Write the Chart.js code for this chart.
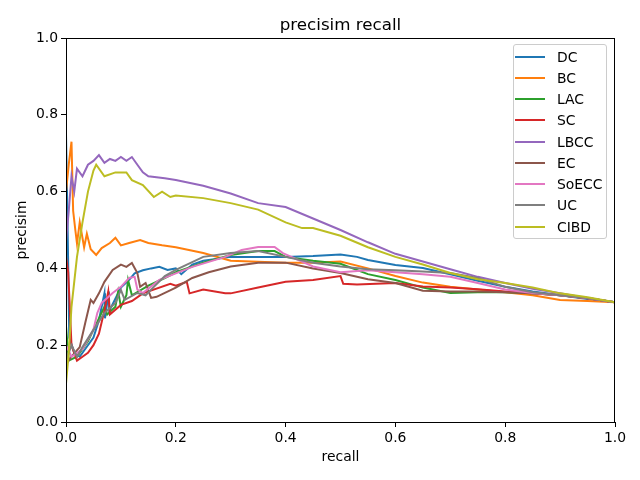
<!DOCTYPE html>
<html>
<head>
<meta charset="utf-8">
<script src="https://cdn.jsdelivr.net/npm/chart.js@4.4.1/dist/chart.umd.min.js"></script>
<style>
  body { margin: 0; background: #fff; }
  #wrap { position: relative; width: 640px; height: 480px; }
  #legend {
    position: absolute; left: 513px; top: 44px; width: 94px;
    box-sizing: border-box; border: 1px solid #ccc; border-radius: 3px;
    background: rgba(255,255,255,0.8); padding: 1px 0;
    font-family: 'DejaVu Sans', sans-serif; font-size: 13.9px; color: #000;
  }
  .row { height: 21.25px; display: flex; align-items: center; }
  .swatch { width: 30px; height: 2px; margin-left: 1px; margin-right: 12px; }
</style>
</head>
<body>
<div id="wrap">
  <canvas id="prChart" width="640" height="480"></canvas>
  <div id="legend"></div>
</div>
<script>
const seriesNames = ['DC', 'BC', 'LAC', 'SC', 'LBCC', 'EC', 'SoECC', 'UC', 'CIBD'];
const seriesColors = ['#1f77b4', '#ff7f0e', '#2ca02c', '#d62728', '#9467bd', '#8c564b', '#e377c2', '#7f7f7f', '#bcbd22'];
const tickValues = [0, 0.2, 0.4, 0.6, 0.8, 1.0];

const dcRecall = [0, 0.003, 0.006, 0.015, 0.025, 0.035, 0.05, 0.06, 0.07, 0.071, 0.078, 0.079, 0.1, 0.115, 0.125, 0.14, 0.155, 0.17, 0.185, 0.2, 0.21, 0.23, 0.25, 0.3, 0.35, 0.4, 0.45, 0.5, 0.53, 0.55, 0.6, 0.65, 0.7, 0.75, 0.8, 0.85, 0.9, 0.95, 1.0];
const dcPrecision = [0.75, 0.5, 0.22, 0.18, 0.17, 0.19, 0.22, 0.265, 0.335, 0.27, 0.34, 0.29, 0.35, 0.37, 0.387, 0.395, 0.4, 0.404, 0.396, 0.4, 0.385, 0.41, 0.42, 0.43, 0.43, 0.43, 0.432, 0.436, 0.43, 0.422, 0.409, 0.401, 0.385, 0.368, 0.352, 0.34, 0.33, 0.32, 0.312];

const bcRecall = [0, 0.005, 0.01, 0.013, 0.017, 0.02, 0.025, 0.033, 0.038, 0.045, 0.055, 0.065, 0.08, 0.09, 0.1, 0.115, 0.135, 0.15, 0.175, 0.2, 0.25, 0.3, 0.35, 0.4, 0.45, 0.5, 0.55, 0.6, 0.65, 0.7, 0.75, 0.8, 0.85, 0.9, 0.95, 1.0];
const bcPrecision = [0.6, 0.67, 0.73, 0.55, 0.5, 0.465, 0.52, 0.455, 0.49, 0.45, 0.435, 0.453, 0.466, 0.48, 0.46, 0.466, 0.474, 0.466, 0.46, 0.455, 0.44, 0.42, 0.417, 0.415, 0.415, 0.418, 0.4, 0.38, 0.363, 0.352, 0.345, 0.338, 0.33, 0.318, 0.315, 0.312];

const lacRecall = [0, 0.005, 0.02, 0.04, 0.06, 0.07, 0.075, 0.09, 0.095, 0.1, 0.11, 0.113, 0.12, 0.15, 0.18, 0.2, 0.25, 0.3, 0.35, 0.38, 0.4, 0.45, 0.5, 0.55, 0.6, 0.65, 0.7, 0.75, 0.8, 0.85, 0.9, 0.95, 1.0];
const lacPrecision = [0.25, 0.16, 0.17, 0.21, 0.27, 0.3, 0.28, 0.3, 0.34, 0.3, 0.33, 0.37, 0.33, 0.355, 0.375, 0.39, 0.415, 0.435, 0.445, 0.445, 0.43, 0.42, 0.412, 0.385, 0.37, 0.35, 0.336, 0.338, 0.338, 0.335, 0.33, 0.323, 0.312];

const scRecall = [0, 0.004, 0.01, 0.02, 0.03, 0.04, 0.05, 0.06, 0.07, 0.077, 0.08, 0.1, 0.12, 0.14, 0.19, 0.2, 0.22, 0.225, 0.25, 0.29, 0.3, 0.35, 0.4, 0.45, 0.5, 0.505, 0.53, 0.6, 0.65, 0.7, 0.75, 0.8, 0.85, 0.9, 0.95, 1.0];
const scPrecision = [0.43, 0.39, 0.2, 0.16, 0.17, 0.18, 0.2, 0.23, 0.29, 0.34, 0.28, 0.305, 0.315, 0.335, 0.36, 0.355, 0.365, 0.335, 0.345, 0.335, 0.335, 0.35, 0.365, 0.37, 0.38, 0.36, 0.358, 0.362, 0.353, 0.35, 0.346, 0.34, 0.335, 0.33, 0.322, 0.312];

const lbccRecall = [0, 0.005, 0.01, 0.015, 0.02, 0.03, 0.04, 0.05, 0.06, 0.07, 0.08, 0.09, 0.1, 0.11, 0.12, 0.13, 0.14, 0.15, 0.18, 0.2, 0.25, 0.3, 0.35, 0.4, 0.45, 0.5, 0.55, 0.6, 0.65, 0.7, 0.75, 0.8, 0.85, 0.9, 0.95, 1.0];
const lbccPrecision = [0.47, 0.55, 0.64, 0.6, 0.66, 0.64, 0.67, 0.68, 0.695, 0.675, 0.685, 0.68, 0.69, 0.68, 0.69, 0.67, 0.65, 0.64, 0.635, 0.63, 0.615, 0.595, 0.57, 0.56, 0.53, 0.5, 0.468, 0.438, 0.418, 0.398, 0.378, 0.362, 0.347, 0.335, 0.322, 0.312];

const ecRecall = [0, 0.01, 0.025, 0.035, 0.045, 0.05, 0.06, 0.07, 0.085, 0.1, 0.11, 0.12, 0.13, 0.135, 0.145, 0.155, 0.165, 0.2, 0.23, 0.26, 0.3, 0.35, 0.4, 0.45, 0.5, 0.55, 0.6, 0.65, 0.7, 0.75, 0.8, 0.85, 0.9, 0.95, 1.0];
const ecPrecision = [0.15, 0.17, 0.195, 0.258, 0.318, 0.31, 0.335, 0.365, 0.396, 0.41, 0.404, 0.414, 0.388, 0.352, 0.362, 0.323, 0.326, 0.35, 0.375, 0.39, 0.405, 0.415, 0.415, 0.4, 0.388, 0.372, 0.362, 0.342, 0.34, 0.34, 0.338, 0.335, 0.33, 0.322, 0.312];

const soeccRecall = [0, 0.01, 0.03, 0.05, 0.057, 0.065, 0.085, 0.1, 0.115, 0.125, 0.13, 0.14, 0.17, 0.23, 0.29, 0.32, 0.35, 0.38, 0.395, 0.45, 0.5, 0.55, 0.6, 0.65, 0.7, 0.75, 0.8, 0.85, 0.9, 0.95, 1.0];
const soeccPrecision = [0.2, 0.17, 0.19, 0.24, 0.284, 0.31, 0.336, 0.352, 0.375, 0.378, 0.345, 0.336, 0.37, 0.404, 0.43, 0.448, 0.456, 0.456, 0.44, 0.405, 0.39, 0.395, 0.39, 0.385, 0.378, 0.362, 0.345, 0.336, 0.33, 0.323, 0.312];

const ucRecall = [0, 0.01, 0.02, 0.03, 0.05, 0.07, 0.09, 0.1, 0.107, 0.13, 0.145, 0.16, 0.18, 0.2, 0.25, 0.3, 0.35, 0.4, 0.45, 0.5, 0.55, 0.6, 0.65, 0.7, 0.75, 0.8, 0.85, 0.9, 0.95, 1.0];
const ucPrecision = [0.16, 0.2, 0.17, 0.195, 0.24, 0.284, 0.31, 0.344, 0.318, 0.336, 0.33, 0.352, 0.38, 0.396, 0.43, 0.44, 0.445, 0.43, 0.415, 0.405, 0.398, 0.395, 0.392, 0.388, 0.375, 0.352, 0.338, 0.33, 0.323, 0.312];

const cibdRecall = [0, 0.005, 0.01, 0.02, 0.03, 0.04, 0.05, 0.055, 0.07, 0.09, 0.11, 0.12, 0.14, 0.16, 0.175, 0.19, 0.2, 0.25, 0.3, 0.35, 0.4, 0.43, 0.45, 0.5, 0.55, 0.6, 0.65, 0.7, 0.75, 0.8, 0.85, 0.9, 0.95, 1.0];
const cibdPrecision = [0.1, 0.18, 0.3, 0.43, 0.52, 0.6, 0.655, 0.67, 0.64, 0.65, 0.65, 0.63, 0.617, 0.586, 0.6, 0.586, 0.59, 0.583, 0.57, 0.553, 0.52, 0.505, 0.505, 0.485, 0.455, 0.43, 0.41, 0.388, 0.372, 0.362, 0.35, 0.335, 0.325, 0.312];

const recallSets = [dcRecall, bcRecall, lacRecall, scRecall, lbccRecall, ecRecall, soeccRecall, ucRecall, cibdRecall];
const precisionSets = [dcPrecision, bcPrecision, lacPrecision, scPrecision, lbccPrecision, ecPrecision, soeccPrecision, ucPrecision, cibdPrecision];

const FONT = "'DejaVu Sans', sans-serif";
Chart.defaults.font.family = FONT;
Chart.defaults.font.size = 13.9;
Chart.defaults.color = '#000';

// title over the plot area plus the top/right spines
const frame = {
  id: 'frame',
  afterDraw(chart) {
    const { ctx, chartArea: a } = chart;
    ctx.save();
    ctx.strokeStyle = '#000';
    ctx.lineWidth = 1;
    ctx.strokeRect(Math.round(a.left) + 0.5, Math.round(a.top) + 0.5,
      Math.round(a.right - a.left) - 1, Math.round(a.bottom - a.top));
    ctx.fillStyle = '#000';
    ctx.font = '16.7px ' + FONT;
    ctx.textAlign = 'center';
    ctx.textBaseline = 'alphabetic';
    ctx.fillText('precisim recall', (a.left + a.right) / 2, a.top - 8);
    ctx.restore();
  }
};

const datasets = seriesNames.map((name, i) => ({
  label: name,
  data: recallSets[i].map((r, j) => ({ x: r, y: precisionSets[i][j] })),
  borderColor: seriesColors[i],
  backgroundColor: seriesColors[i],
  borderWidth: 2,
  pointRadius: 0,
  fill: false,
  tension: 0,
  order: seriesNames.length - i
}));

const tickAxis = {
  type: 'linear',
  min: 0,
  max: 1,
  grid: { drawOnChartArea: false, drawTicks: true, tickLength: 5, color: '#000' },
  border: { display: false },
  ticks: { stepSize: 0.2, padding: 3, callback: v => v.toFixed(1) }
};

new Chart(document.getElementById('prChart'), {
  type: 'line',
  data: { datasets: datasets },
  options: {
    responsive: false,
    animation: false,
    layout: { padding: { top: 38, right: 25, left: 0, bottom: 0 } },
    plugins: { legend: { display: false }, tooltip: { enabled: false } },
    scales: {
      x: {
        ...tickAxis,
        afterBuildTicks: s => { s.ticks = tickValues.map(v => ({ value: v })); },
        afterFit: s => { s.height = 58; },
        title: { display: true, text: 'recall', padding: { top: 0, bottom: 14.6 } }
      },
      y: {
        ...tickAxis,
        afterBuildTicks: s => { s.ticks = tickValues.map(v => ({ value: v })); },
        afterFit: s => { s.width = 66; },
        title: { display: true, text: 'precisim', padding: { top: 13.6, bottom: 0 } }
      }
    }
  },
  plugins: [frame]
});

const legend = document.getElementById('legend');
seriesNames.forEach((name, i) => {
  const row = document.createElement('div');
  row.className = 'row';
  row.innerHTML = '<span class="swatch" style="background:' + seriesColors[i] + '"></span><span>' + name + '</span>';
  legend.appendChild(row);
});
</script>
</body>
</html>
